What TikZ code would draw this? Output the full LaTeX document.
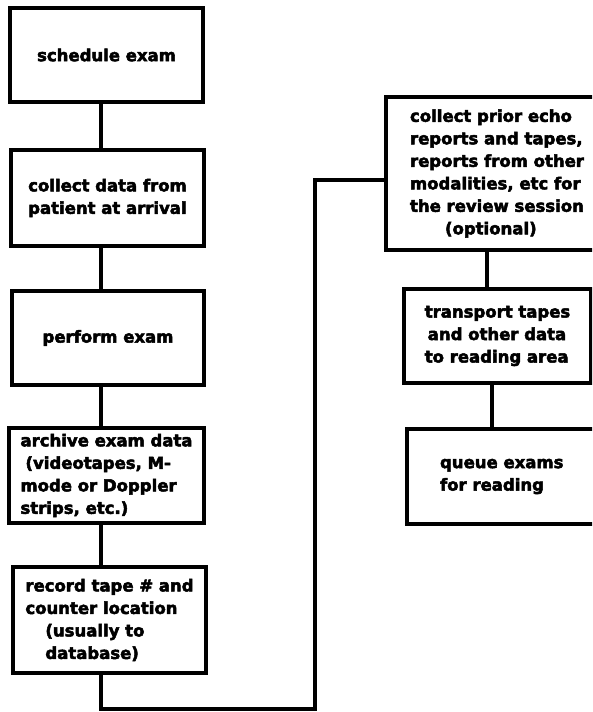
\documentclass[tikz,border=0pt]{standalone}
\usepackage{fontspec}
\setmainfont{DejaVu Sans}[BoldFeatures={FakeBold=3}]
\begin{document}
\begin{tikzpicture}[x=1pt,y=-1pt,
  stepbox/.style={draw=black,line width=3.2pt,fill=white,align=left,
    font=\fontsize{16.5}{22.5}\selectfont\bfseries,inner sep=0pt},
  link/.style={draw=black,line width=3.2pt}]
\useasboundingbox (0,0) rectangle (592,712);
\clip (0,0) rectangle (592,712);

% left column
\node[stepbox,minimum width=193pt,minimum height=94pt] (b1) at (106.5,55) {schedule exam};
\node[stepbox,minimum width=193pt,minimum height=96pt] (b2) at (107.5,198) {collect data from\\patient at arrival};
\node[stepbox,minimum width=192pt,minimum height=94pt] (b3) at (108,338) {perform exam};
\node[stepbox,minimum width=195pt,minimum height=95pt] (b4) at (106.5,475.5) {archive exam data\\\hspace*{5pt}(videotapes, M-\\mode or Doppler\\strips, etc.)};
\node[stepbox,minimum width=193pt,minimum height=106pt] (b5) at (109.5,620) {record tape \# and\\counter location\\\hspace*{20pt}(usually to\\\hspace*{20pt}database)};

% right column
\node[stepbox,minimum width=222pt,minimum height=153pt] (b6) at (497,173.5) {collect prior echo\\reports and tapes,\\reports from other\\modalities, etc for\\the review session\\\hspace*{35pt}(optional)};
\node[stepbox,minimum width=187pt,minimum height=94pt] (b7) at (497.5,336) {transport tapes\\\hspace*{3pt}and other data\\to reading area};
\node[stepbox,minimum width=196pt,minimum height=95pt] (b8) at (505,476.5) {queue exams\\for reading\hspace*{26pt}};

% routing points
\coordinate (spine) at (101,0);
\coordinate (bottom) at (101,709);
\coordinate (riser) at (315,709);
\coordinate (top) at (315,180);

% connectors
\draw[link] (b1.south -| spine) -- (b2.north -| spine);
\draw[link] (b2.south -| spine) -- (b3.north -| spine);
\draw[link] (b3.south -| spine) -- (b4.north -| spine);
\draw[link] (b4.south -| spine) -- (b5.north -| spine);
\draw[link] (b5.south -| spine) -- (bottom) -- (riser) -- (top) -- (top -| b6.west);
\draw[link] ([xshift=-10pt]b6.south) -- ([xshift=-10pt]b6.south |- b7.north);
\draw[link] ([xshift=-5.5pt]b7.south) -- ([xshift=-5.5pt]b7.south |- b8.north);
\end{tikzpicture}
\end{document}
